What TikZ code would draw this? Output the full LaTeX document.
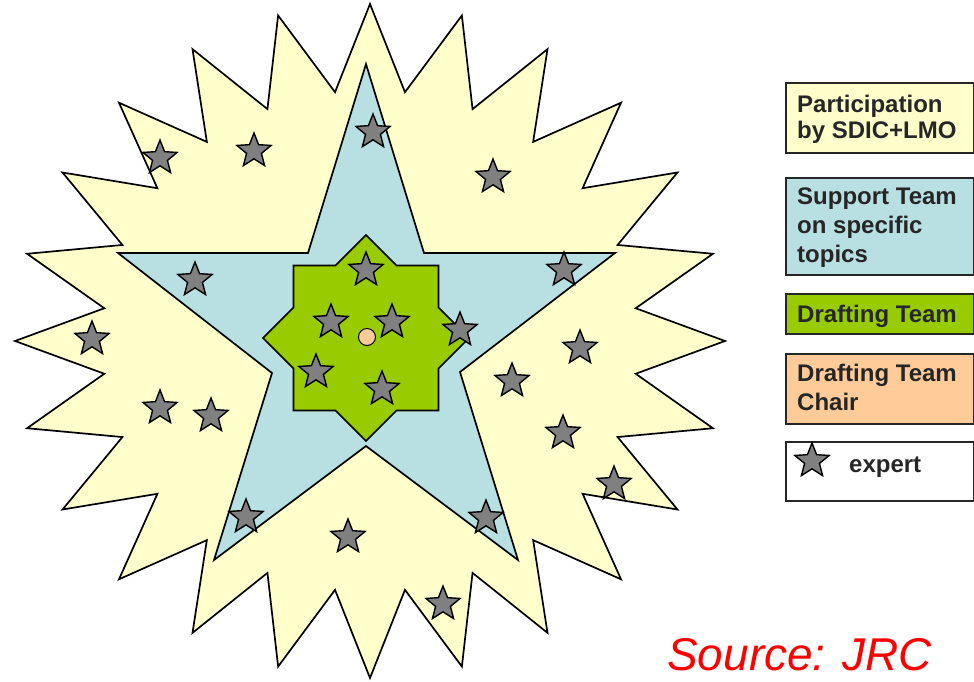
\documentclass[tikz,border=0pt]{standalone}
\usepackage{fontspec}
\setmainfont{Liberation Sans}
\usetikzlibrary{shapes.geometric}
\definecolor{partyellow}{HTML}{FFFFCC}
\definecolor{supportblue}{HTML}{B8E0E3}
\definecolor{draftgreen}{HTML}{99CC00}
\definecolor{chairorange}{HTML}{FFCC99}
\definecolor{expertgray}{HTML}{808080}
\begin{document}
\begin{tikzpicture}[x=1pt,y=-1pt,
  outline/.style={draw=black, line width=1.7pt, line join=miter},
  expert/.style={star, star points=5, star point ratio=2.3, minimum size=36pt, inner sep=0pt, fill=expertgray, draw=black, line width=1.4pt},
  legendbox/.style={draw=black!85, line width=1.6pt, anchor=north west, inner sep=0pt, minimum width=188pt},
  legendtext/.style={anchor=base west, inner sep=0pt, font=\fontsize{24}{28}\selectfont\bfseries, text=black!85},
]
\useasboundingbox (0,0) rectangle (974,681);

% outer starburst (participation)
\filldraw[outline, fill=partyellow] (370,4)
  \foreach \i in {0,...,22} {
    -- ({370+268*cos(97.5+15*\i)}, {341-251*sin(97.5+15*\i)})
    -- ({370+355*cos(105+15*\i)}, {341-337*sin(105+15*\i)})
  }
  -- ({370+268*cos(82.5)}, {341-251*sin(82.5)}) -- cycle;

% five-pointed star (support team)
\filldraw[outline, fill=supportblue] (366,64) -- (424,253) -- (615,253) -- (460,372)
  -- (518,560) -- (366,446) -- (214,560) -- (272,373) -- (118,253) -- (308,253) -- cycle;

% eight-pointed star (drafting team)
\filldraw[outline, fill=draftgreen] (366,235) -- (396.5,265.5) -- (438.5,265.5) -- (438.5,307.5)
  -- (469,338) -- (438.5,368.5) -- (438.5,410.5) -- (396.5,410.5) -- (366,441)
  -- (335.5,410.5) -- (293.5,410.5) -- (293.5,368.5) -- (263,338) -- (293.5,307.5)
  -- (293.5,265.5) -- (335.5,265.5) -- cycle;

% chair
\node[circle, fill=chairorange, draw=black, line width=1pt, minimum size=17pt, inner sep=0pt] (chair) at (367,337) {};

% experts
\foreach \p [count=\k] in {(160,158),(254,151),(373,132),(493,177),(195,280),(366,270),
  (331,322),(392,322),(460,330),(564,270),(92,339),(316,372),(382,389),(580,348),
  (512,381),(160,408),(211,416),(563,433),(614,484),(246,517),(348,537),(486,518),(443,604)}
  \node[expert] (e\k) at \p {};

% legend
\node[legendbox, fill=partyellow, minimum height=70pt] (lgA) at (785,82) {};
\node[legendtext] (tA1) at (797,112) {Participation};
\node[legendtext] (tA2) at (797,138) {by SDIC+LMO};

\node[legendbox, fill=supportblue, minimum height=97pt] (lgB) at (785,177) {};
\node[legendtext] (tB1) at (797,204) {Support Team};
\node[legendtext] (tB2) at (797,233) {on specific};
\node[legendtext] (tB3) at (797,262) {topics};

\node[legendbox, fill=draftgreen, minimum height=40pt] (lgC) at (785,293) {};
\node[legendtext] (tC1) at (797,322) {Drafting Team};

\node[legendbox, fill=chairorange, minimum height=70pt] (lgD) at (785,353) {};
\node[legendtext] (tD1) at (797,381) {Drafting Team};
\node[legendtext] (tD2) at (797,410) {Chair};

\node[legendbox, fill=white, minimum height=59pt] (lgE) at (785,441) {};
\node[expert] (lgstar) at (812,461) {};
\node[legendtext] (tE1) at (849,472) {expert};

% source
\node[anchor=base west, inner sep=0pt, text=red, font=\fontsize{46}{50}\selectfont\itshape] (src) at (667,670) {Source: JRC};
\end{tikzpicture}
\end{document}
